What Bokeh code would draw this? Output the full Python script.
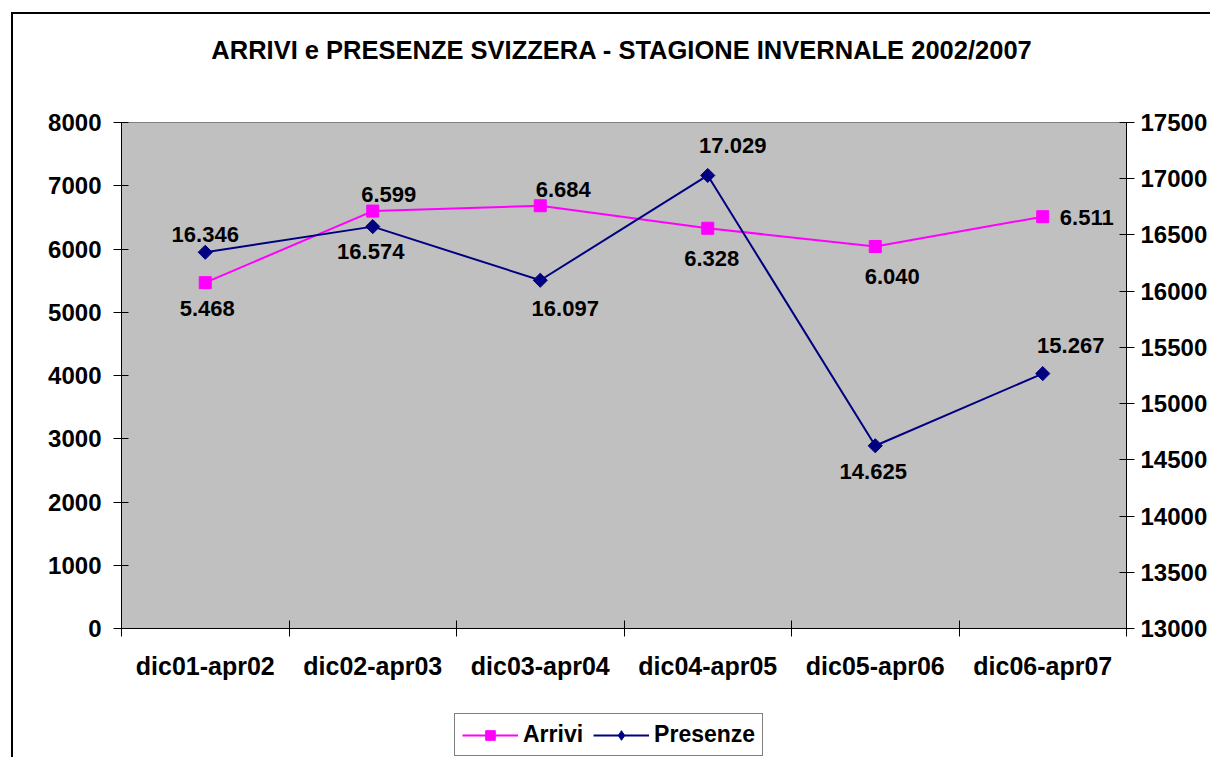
from bokeh.plotting import figure
from bokeh.layouts import column
from bokeh.models import (Range1d, LinearAxis, FixedTicker, Legend, LegendItem,
                          ColumnDataSource)
from bokeh.core.properties import value
from bokeh.embed import file_html
from bokeh.resources import INLINE

# ---- data ----
categories = ["dic01-apr02", "dic02-apr03", "dic03-apr04",
              "dic04-apr05", "dic05-apr06", "dic06-apr07"]
arrivi = [5468, 6599, 6684, 6328, 6040, 6511]
presenze = [16346, 16574, 16097, 17029, 14625, 15267]
left_ticks = [0, 1000, 2000, 3000, 4000, 5000, 6000, 7000, 8000]
right_ticks = [13000, 13500, 14000, 14500, 15000, 15500, 16000, 16500, 17000, 17500]
series_names = ["Arrivi", "Presenze"]
title_text = "ARRIVI e PRESENZE SVIZZERA - STAGIONE INVERNALE 2002/2007"

# label placement (screen px offsets from the point)
arrivi_dx = [2, 16, 23, 4, 17, 44]
arrivi_dy = [26, -17, -16, 30, 30, 1]
presenze_dx = [0, -2, 25, 25, -2, 28]
presenze_dy = [-18, 25, 28, -30, 26, -28]

FONT = "Liberation Sans"
MAGENTA = "#FF00FF"
NAVY = "#000080"
W = 1210


def fmt(v):
    return f"{v:,}".replace(",", ".")


def bare(fig):
    fig.xgrid.visible = False
    fig.ygrid.visible = False
    fig.outline_line_color = None
    fig.background_fill_color = None
    fig.border_fill_color = None


xs = [i + 0.5 for i in range(len(categories))]

src_a = ColumnDataSource(dict(x=xs, y=arrivi, lab=[fmt(v) for v in arrivi],
                              dx=arrivi_dx, dy=arrivi_dy))
src_p = ColumnDataSource(dict(x=xs, y=presenze, lab=[fmt(v) for v in presenze],
                              dx=presenze_dx, dy=presenze_dy))

# ---- title strip ----
t = figure(width=W, height=102, output_backend="svg", toolbar_location=None,
           x_range=Range1d(0, 1), y_range=Range1d(0, 102),
           min_border=0, x_axis_location=None, y_axis_location=None)
bare(t)
t.text(x=[0.5], y=[53], text=[title_text], x_offset=-2,
       text_align="center", text_baseline="middle",
       text_font=value(FONT), text_font_style="bold", text_font_size="25.5px",
       text_color="black")

# ---- main chart ----
p = figure(width=W, height=598, output_backend="svg", toolbar_location=None,
           x_range=Range1d(0, len(categories)),
           y_range=Range1d(left_ticks[0], left_ticks[-1]),
           min_border_left=121, min_border_right=W - 1127,
           min_border_top=20, min_border_bottom=72,
           x_axis_location=None, y_axis_location=None)
p.extra_y_ranges = {"right": Range1d(right_ticks[0], right_ticks[-1])}

p.background_fill_color = "#C0C0C0"
p.border_fill_color = None
p.outline_line_color = "#808080"
p.outline_line_width = 1
p.xgrid.visible = False
p.ygrid.visible = False


def style_axis(ax, size="24px"):
    ax.axis_line_color = "black"
    ax.axis_line_width = 1
    ax.major_label_text_font = FONT
    ax.major_label_text_font_style = "bold"
    ax.major_label_text_font_size = size
    ax.major_label_text_color = "black"
    ax.major_tick_line_color = "black"


left_ax = LinearAxis(ticker=FixedTicker(ticks=left_ticks))
style_axis(left_ax)
left_ax.major_tick_in = 7
left_ax.major_tick_out = 8
left_ax.minor_tick_line_color = None
left_ax.major_label_standoff = 12
p.add_layout(left_ax, "left")

right_ax = LinearAxis(y_range_name="right", ticker=FixedTicker(ticks=right_ticks))
style_axis(right_ax)
right_ax.major_tick_in = 7
right_ax.major_tick_out = 8
right_ax.minor_tick_line_color = None
right_ax.major_label_standoff = 6
p.add_layout(right_ax, "right")

bottom_ax = LinearAxis(ticker=FixedTicker(ticks=xs, minor_ticks=list(range(len(categories) + 1))))
style_axis(bottom_ax, "25px")
bottom_ax.major_tick_in = 0
bottom_ax.major_tick_out = 0
bottom_ax.minor_tick_in = 8
bottom_ax.minor_tick_out = 8
bottom_ax.minor_tick_line_color = "black"
bottom_ax.major_label_standoff = 15
bottom_ax.major_label_overrides = {x: c for x, c in zip(xs, categories)}
p.add_layout(bottom_ax, "below")

# series
p.line("x", "y", source=src_a, color=MAGENTA, line_width=2)
p.scatter("x", "y", source=src_a, marker="square", size=12,
          fill_color=MAGENTA, line_color=MAGENTA)
p.line("x", "y", source=src_p, color=NAVY, line_width=2, y_range_name="right")
p.scatter("x", "y", source=src_p, marker="square", size=10, angle=0.7854,
          fill_color=NAVY, line_color=NAVY, y_range_name="right")

# data labels
for src, rng in ((src_a, "default"), (src_p, "right")):
    p.text("x", "y", text="lab", source=src, x_offset="dx", y_offset="dy",
           text_align="center", text_baseline="middle",
           text_font=value(FONT), text_font_style="bold", text_font_size="22px",
           text_color="black", y_range_name=rng)

# ---- legend strip ----
q = figure(width=W, height=57, output_backend="svg", toolbar_location=None,
           x_range=Range1d(0, 1), y_range=Range1d(0, 1),
           min_border=0, x_axis_location=None, y_axis_location=None)
bare(q)
# legend swatches (kept outside the visible range of this strip)
ql1 = q.line([-2, -1], [-2, -1], color=MAGENTA, line_width=2)
qs1 = q.scatter([-2], [-2], marker="square", size=12, fill_color=MAGENTA, line_color=MAGENTA)
ql2 = q.line([-2, -1], [-2, -1], color=NAVY, line_width=2)
qs2 = q.scatter([-2], [-2], marker="diamond", size=17, fill_color=NAVY, line_color=NAVY)
legend = Legend(items=[LegendItem(label=series_names[0], renderers=[ql1, qs1]),
                       LegendItem(label=series_names[1], renderers=[ql2, qs2])],
                orientation="horizontal", location=(333, 1),
                border_line_color="black", border_line_width=1,
                background_fill_color="white", background_fill_alpha=1,
                label_text_font=FONT, label_text_font_style="bold",
                label_text_font_size="23px", label_text_color="black",
                glyph_width=56, glyph_height=24,
                label_standoff=5, spacing=10, padding=7, margin=0)
q.add_layout(legend, "center")

layout = column(t, p, q, spacing=0)
# outer chart border (left and top edges are the visible ones)
layout.styles = {
    "background-color": "white",
    "background-image": "linear-gradient(#000,#000), linear-gradient(#000,#000)",
    "background-size": "2px 100%, 100% 2px",
    "background-position": "11px 12px, 11px 12px",
    "background-repeat": "no-repeat",
}

open("out.html", "w").write(file_html(layout, INLINE))
